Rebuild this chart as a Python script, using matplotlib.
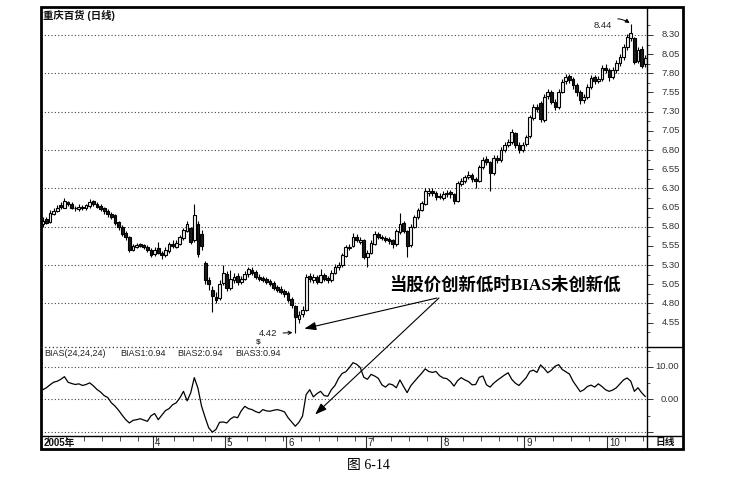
import numpy as np
import matplotlib.pyplot as plt
import matplotlib.transforms as mtransforms
from matplotlib.patches import Rectangle
from matplotlib.lines import Line2D

plt.rcParams['font.family'] = ['Liberation Sans', 'Noto Sans CJK SC']

# ---------------------------------------------------------------------
# daily candles (Feb - Oct 2005)
open_ = [5.83, 5.90, 5.86, 5.97, 6.01, 6.08, 6.05, 6.12, 6.10, 6.05,
         6.03, 6.06, 6.04, 6.07, 6.14, 6.10, 6.07, 6.04, 6.01, 5.97,
         5.95, 5.86, 5.80, 5.72, 5.66, 5.50, 5.54, 5.57, 5.56, 5.54,
         5.50, 5.44, 5.52, 5.46, 5.43, 5.48, 5.58, 5.54, 5.58, 5.65,
         5.75, 5.78, 5.62, 5.83, 5.70, 5.33, 5.10, 4.98, 4.88, 4.87,
         5.06, 5.18, 5.00, 5.10, 5.16, 5.08, 5.12, 5.18, 5.24, 5.21,
         5.15, 5.13, 5.12, 5.09, 5.06, 5.01, 4.99, 4.96, 4.93, 4.86,
         4.76, 4.60, 4.66, 4.72, 5.16, 5.10, 5.15, 5.08, 5.17, 5.13,
         5.10, 5.20, 5.27, 5.30, 5.42, 5.52, 5.55, 5.67, 5.60, 5.62,
         5.40, 5.46, 5.58, 5.70, 5.66, 5.65, 5.64, 5.62, 5.57, 5.73,
         5.85, 5.74, 5.56, 5.80, 5.92, 6.02, 6.10, 6.24, 6.27, 6.24,
         6.20, 6.18, 6.22, 6.25, 6.22, 6.14, 6.36, 6.40, 6.45, 6.48,
         6.42, 6.40, 6.58, 6.68, 6.64, 6.50, 6.70, 6.67, 6.80, 6.87,
         6.91, 7.02, 6.87, 6.80, 6.88, 6.98, 7.22, 7.36, 7.41, 7.19,
         7.50, 7.55, 7.43, 7.36, 7.56, 7.70, 7.76, 7.72, 7.65, 7.56,
         7.45, 7.49, 7.62, 7.75, 7.70, 7.72, 7.87, 7.84, 7.75, 7.84,
         7.93, 8.01, 8.14, 8.26, 8.26, 7.96, 8.12, 7.92]
high = [5.92, 5.93, 6.02, 6.04, 6.08, 6.12, 6.18, 6.14, 6.12, 6.07,
        6.09, 6.08, 6.10, 6.16, 6.15, 6.12, 6.09, 6.06, 6.03, 5.99,
        5.96, 5.88, 5.82, 5.74, 5.68, 5.58, 5.59, 5.59, 5.58, 5.56,
        5.52, 5.53, 5.60, 5.48, 5.53, 5.60, 5.62, 5.62, 5.69, 5.78,
        5.88, 5.80, 6.09, 5.88, 5.76, 5.35, 5.14, 5.02, 4.95, 5.10,
        5.30, 5.22, 5.24, 5.20, 5.19, 5.16, 5.22, 5.28, 5.27, 5.24,
        5.18, 5.16, 5.15, 5.12, 5.09, 5.04, 5.02, 4.99, 4.96, 4.88,
        4.78, 4.70, 4.76, 5.18, 5.20, 5.18, 5.17, 5.25, 5.19, 5.16,
        5.23, 5.31, 5.34, 5.46, 5.56, 5.58, 5.72, 5.70, 5.66, 5.64,
        5.50, 5.62, 5.74, 5.73, 5.69, 5.68, 5.66, 5.64, 5.77, 5.98,
        5.88, 5.76, 5.83, 5.95, 6.05, 6.14, 6.30, 6.30, 6.30, 6.27,
        6.24, 6.26, 6.28, 6.28, 6.24, 6.40, 6.44, 6.48, 6.52, 6.50,
        6.45, 6.61, 6.71, 6.72, 6.66, 6.74, 6.73, 6.84, 6.91, 6.95,
        7.08, 7.04, 6.90, 6.91, 7.00, 7.26, 7.40, 7.40, 7.44, 7.53,
        7.60, 7.58, 7.46, 7.60, 7.73, 7.79, 7.79, 7.75, 7.68, 7.58,
        7.53, 7.66, 7.78, 7.78, 7.76, 7.91, 7.92, 7.87, 7.88, 7.97,
        8.05, 8.18, 8.31, 8.44, 8.28, 8.14, 8.16, 8.04]
low = [5.80, 5.83, 5.85, 5.95, 5.99, 6.03, 6.04, 6.07, 6.03, 6.01,
       6.01, 6.02, 6.02, 6.05, 6.07, 6.04, 6.01, 5.97, 5.93, 5.90,
       5.82, 5.76, 5.68, 5.62, 5.47, 5.48, 5.52, 5.53, 5.51, 5.47,
       5.40, 5.42, 5.44, 5.38, 5.41, 5.46, 5.52, 5.52, 5.56, 5.63,
       5.73, 5.57, 5.60, 5.41, 5.50, 5.05, 4.98, 4.69, 4.80, 4.85,
       5.04, 4.96, 4.98, 5.06, 5.04, 5.05, 5.10, 5.15, 5.17, 5.12,
       5.09, 5.08, 5.05, 5.02, 4.97, 4.95, 4.92, 4.88, 4.82, 4.74,
       4.42, 4.55, 4.62, 4.70, 5.08, 5.07, 5.05, 5.06, 5.09, 5.06,
       5.08, 5.18, 5.24, 5.28, 5.40, 5.49, 5.53, 5.60, 5.57, 5.38,
       5.28, 5.44, 5.56, 5.64, 5.62, 5.60, 5.57, 5.52, 5.55, 5.71,
       5.72, 5.41, 5.54, 5.78, 5.90, 6.00, 6.08, 6.20, 6.20, 6.15,
       6.16, 6.15, 6.19, 6.18, 6.10, 6.12, 6.33, 6.37, 6.42, 6.38,
       6.30, 6.38, 6.55, 6.60, 6.26, 6.48, 6.63, 6.65, 6.77, 6.84,
       6.88, 6.83, 6.76, 6.77, 6.85, 6.96, 7.19, 7.29, 7.16, 7.17,
       7.46, 7.40, 7.32, 7.34, 7.54, 7.66, 7.68, 7.60, 7.50, 7.40,
       7.41, 7.47, 7.60, 7.66, 7.67, 7.70, 7.80, 7.70, 7.72, 7.81,
       7.90, 7.98, 8.10, 8.22, 7.92, 7.93, 7.87, 7.88]
close = [5.87, 5.85, 5.98, 6.00, 6.05, 6.06, 6.13, 6.10, 6.05, 6.04,
         6.06, 6.05, 6.08, 6.12, 6.10, 6.06, 6.03, 6.00, 5.96, 5.93,
         5.85, 5.79, 5.70, 5.66, 5.50, 5.55, 5.56, 5.55, 5.54, 5.50,
         5.43, 5.50, 5.46, 5.43, 5.50, 5.57, 5.55, 5.59, 5.66, 5.76,
         5.83, 5.60, 5.95, 5.45, 5.55, 5.10, 5.05, 4.90, 4.85, 5.05,
         5.20, 5.00, 5.12, 5.15, 5.08, 5.12, 5.18, 5.25, 5.20, 5.15,
         5.12, 5.11, 5.08, 5.05, 5.00, 4.98, 4.95, 4.92, 4.85, 4.78,
         4.62, 4.65, 4.72, 5.15, 5.12, 5.15, 5.08, 5.17, 5.12, 5.10,
         5.20, 5.28, 5.30, 5.43, 5.53, 5.54, 5.67, 5.63, 5.63, 5.41,
         5.46, 5.59, 5.70, 5.67, 5.65, 5.63, 5.61, 5.57, 5.74, 5.83,
         5.75, 5.55, 5.80, 5.92, 6.02, 6.11, 6.26, 6.26, 6.24, 6.19,
         6.19, 6.22, 6.24, 6.22, 6.13, 6.37, 6.40, 6.45, 6.48, 6.42,
         6.39, 6.58, 6.67, 6.64, 6.50, 6.70, 6.67, 6.80, 6.87, 6.90,
         7.04, 6.87, 6.80, 6.87, 6.97, 7.23, 7.36, 7.33, 7.20, 7.49,
         7.55, 7.43, 7.36, 7.56, 7.69, 7.75, 7.71, 7.65, 7.56, 7.45,
         7.49, 7.62, 7.74, 7.70, 7.72, 7.87, 7.84, 7.75, 7.84, 7.93,
         8.01, 8.14, 8.27, 8.32, 7.95, 8.10, 7.90, 8.00]

# BIAS(24) line, one value per candle
bias = [3.0, 3.6, 4.5, 5.3, 5.6, 6.2, 7.0, 5.3, 4.9, 4.6,
        4.8, 4.3, 4.6, 5.1, 4.2, 3.1, 2.3, 1.2, 0.6, -1.0,
        -2.0, -3.3, -4.8, -6.2, -7.2, -6.4, -6.2, -5.9, -6.3, -6.7,
        -5.0, -4.3, -6.2, -4.8, -3.4, -2.8, -1.6, -1.0, 0.5, 2.5,
        -0.4, 2.0, 6.7, 3.5, -2.0, -5.5, -8.7, -10.0, -9.2, -7.0,
        -6.9, -7.2, -6.0, -5.3, -5.6, -3.5, -2.1, -2.8, -3.1, -3.7,
        -4.1, -3.1, -3.5, -3.6, -3.3, -3.1, -3.4, -3.8, -5.6, -6.9,
        -8.2, -7.0, -5.1, 1.5, 3.0, 0.8, 1.8, 2.5, 1.2, 1.0,
        3.0, 4.3, 6.5, 8.0, 8.5, 9.8, 11.3, 10.8, 9.8, 6.8,
        6.2, 7.7, 7.2, 6.5, 4.5, 3.8, 4.8, 4.5, 3.6, 6.0,
        4.0, 2.1, 4.2, 5.5, 6.8, 8.0, 9.4, 8.6, 8.3, 8.6,
        7.3, 6.6, 6.4, 5.5, 4.1, 5.8, 6.7, 6.0, 5.5, 4.5,
        4.6, 6.8, 7.2, 4.5, 3.8, 5.0, 5.9, 6.7, 7.5, 8.2,
        6.2, 5.0, 4.3, 5.5, 6.7, 8.6, 9.0, 8.3, 10.6, 9.5,
        8.2, 9.0, 10.2, 10.7, 9.2, 8.5, 7.8, 5.6, 4.0, 2.4,
        3.0, 4.0, 4.4, 3.8, 4.8, 4.0, 3.0, 2.5, 2.9, 3.6,
        4.8, 6.0, 6.6, 5.6, 2.5, 3.6, 2.1, 0.94]

price_ticks = [4.55, 4.80, 5.05, 5.30, 5.55, 5.80, 6.05, 6.30,
               6.55, 6.80, 7.05, 7.30, 7.55, 7.80, 8.05, 8.30]
price_grid = [4.80, 5.30, 5.80, 6.30, 6.80, 7.30, 7.80, 8.30]
bias_ticks = [10.0, 0.0]
bias_grid = [10.0, 0.0, -10.0]
month_start = [31, 51, 68, 90, 111, 134, 157]
month_labels = ['4', '5', '6', '7', '8', '9', '10']
legend_items = ['BIAS(24,24,24)', 'BIAS1:0.94', 'BIAS2:0.94', 'BIAS3:0.94']
legend_px = [44, 120, 177, 235]

# ---------------------------------------------------------------------
W, H = 729, 491
fig = plt.figure(figsize=(W / 100, H / 100), dpi=100)


def box(x0, y0, x1, y1):
    # pixel box with top-left origin -> figure fraction rect
    return [x0 / W, 1 - y1 / H, (x1 - x0) / W, (y1 - y0) / H]


def fx(px):
    return px / W


def fy(py):
    return 1 - py / H


ax_p = fig.add_axes(box(41, 7, 647, 347))
ax_b = fig.add_axes(box(41, 347, 647, 436))
ax_d = fig.add_axes(box(41, 436, 647, 449))

n = len(close)
idx = np.arange(n)
for ax in (ax_p, ax_b, ax_d):
    ax.set_xlim(-0.5, n - 0.5)
    for s in ax.spines.values():
        s.set_visible(False)
    ax.set_xticks([])

dot = (0, (1, 2))

# ---- price panel ----
ax_p.set_ylim(4.231, 8.665)
for g in price_grid:
    ax_p.axhline(g, color='#444444', lw=0.8, ls=dot, zorder=0)

o = np.array(open_)
c = np.array(close)
up = c >= o
ax_p.vlines(idx, low, high, color='black', lw=0.8, zorder=2)
ax_p.bar(idx, np.maximum(np.abs(c - o), 0.006), bottom=np.minimum(o, c),
         width=0.78, color=np.where(up, '#f2f2f2', '#1a1a1a'),
         edgecolor='black', linewidth=0.8, zorder=3)

ax_p.yaxis.tick_right()
ax_p.set_yticks(price_ticks)
ax_p.set_yticks(np.arange(4.425, 8.6, 0.25), minor=True)
ax_p.tick_params(axis='y', which='major', length=4, width=0.7, direction='out',
                 labelright=False, color='#333333')
ax_p.tick_params(axis='y', which='minor', length=2, width=0.6, direction='out',
                 color='#333333')
tr_p = mtransforms.blended_transform_factory(ax_p.transAxes, ax_p.transData)
for v in price_ticks:
    ax_p.text(1 + 33 / 606, v, f'{v:.2f}', transform=tr_p, ha='right',
              va='center', fontsize=6.8, color='#333333')

ax_p.annotate('8.44', xy=(163, 8.445), xytext=(155.3, 8.43), fontsize=6.8,
              ha='center', va='center', color='#222222',
              arrowprops=dict(arrowstyle='-|>', connectionstyle='arc3,rad=-0.4',
                              lw=0.7, color='black', mutation_scale=6,
                              shrinkA=2, shrinkB=1))
ax_p.annotate('4.42', xy=(69.6, 4.42), xytext=(62.5, 4.405), fontsize=6.8,
              ha='center', va='center', color='#222222',
              arrowprops=dict(arrowstyle='->', lw=0.7, color='black',
                              mutation_scale=6, shrinkA=2, shrinkB=1))
ax_p.text(59.8, 4.29, '$', fontsize=6, ha='center', va='center',
          weight='bold', color='#333333')

# ---- BIAS panel ----
ax_b.set_ylim(-11.2, 16.1)
for g in bias_grid:
    ax_b.axhline(g, color='#444444', lw=0.8, ls=dot, zorder=0)
ax_b.plot(idx, bias, color='black', lw=0.9)
ax_b.yaxis.tick_right()
ax_b.set_yticks([-10, 0, 10])
ax_b.set_yticks([-5, 5, 15], minor=True)
ax_b.tick_params(axis='y', which='major', length=4, width=0.7, direction='out',
                 labelright=False, color='#333333')
ax_b.tick_params(axis='y', which='minor', length=2, width=0.6, direction='out',
                 color='#333333')
tr_b = mtransforms.blended_transform_factory(ax_b.transAxes, ax_b.transData)
for v in bias_ticks:
    ax_b.text(1 + 32 / 606, v, f'{v:.2f}', transform=tr_b, ha='right',
              va='center', fontsize=6.8, color='#333333')
for txt, px in zip(legend_items, legend_px):
    fig.text(fx(px), fy(353), txt, fontsize=6.5, va='center', color='#222222')

# ---- date strip ----
ax_d.set_ylim(0, 1)
ax_d.set_yticks([])
ax_d.vlines(np.arange(2, n, 5) - 0.5, 0.65, 1, color='#333333', lw=0.6)
ax_d.vlines(np.array(month_start) - 0.5, 0, 1, color='#333333', lw=0.8)
for m, lab in zip(month_start, month_labels):
    ax_d.text(m, 0.45, lab, fontsize=7, ha='left', va='center', color='#222222')
ax_d.text(0.2, 0.45, '2005年', fontsize=7, ha='left', va='center',
          weight='bold', color='#111111')

# ---- frame and separators ----
fig.add_artist(Rectangle((fx(41), fy(449)), (683 - 41) / W, (449 - 7) / H,
                         transform=fig.transFigure, fill=False,
                         edgecolor='black', lw=2))
fig.add_artist(Line2D([fx(647), fx(647)], [fy(7), fy(449)], color='black', lw=1))
fig.add_artist(Line2D([fx(41), fx(647)], [fy(347), fy(347)], color='#333333',
                      lw=0.9, ls=dot))
fig.add_artist(Line2D([fx(647), fx(683)], [fy(347), fy(347)], color='black', lw=1))
fig.add_artist(Line2D([fx(41), fx(683)], [fy(436), fy(436)], color='black', lw=1))
fig.text(fx(665), fy(442.5), '日线', fontsize=7, ha='center', va='center',
         weight='bold', color='#111111')

# ---- texts ----
fig.text(fx(43), fy(15), '重庆百货 (日线)', fontsize=7.5, va='center',
         weight='bold', color='#111111')
fig.text(fx(505), fy(285), '当股价创新低时BIAS未创新低', fontsize=12.5,
         weight='bold', ha='center', va='center',
         family=['Liberation Serif', 'Noto Sans CJK SC'])
fig.text(fx(368), fy(466), '图 6-14', fontsize=10, ha='center', va='center',
         family=['Liberation Serif', 'Noto Sans CJK SC'])

# arrows from the note to the new price low and to the BIAS low
arr = dict(arrowstyle='-|>,head_length=0.7,head_width=0.25', lw=0.8,
           color='black', shrinkA=0, shrinkB=0)
ax_p.annotate('', xy=(72.5, 4.47), xycoords='data',
              xytext=(fx(437), fy(298)), textcoords='figure fraction',
              arrowprops=arr, annotation_clip=False)
ax_b.annotate('', xy=(75.5, -4.6), xycoords='data',
              xytext=(fx(439), fy(298)), textcoords='figure fraction',
              arrowprops=arr, annotation_clip=False)

fig.savefig('out.png', dpi=100)
